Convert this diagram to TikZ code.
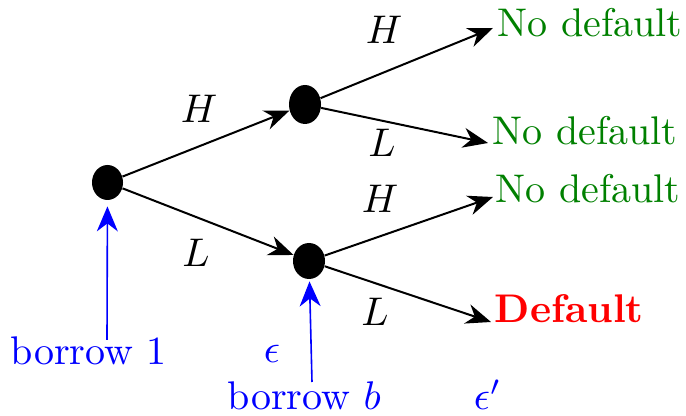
\documentclass[tikz,border=0pt]{standalone}
\usetikzlibrary{arrows.meta,shapes.geometric}
\definecolor{dgreen}{RGB}{0,128,0}
\begin{document}
\begin{tikzpicture}[x=0.5pt,y=-0.5pt,
  big/.style={scale=2,font=\fontsize{10}{12}\selectfont,inner sep=0pt},
  dot/.style={ellipse,fill=black,draw=none,inner sep=0pt},
  br/.style={line width=1pt,-{Stealth[length=12.5pt,width=10pt,inset=4pt]}},
  bl/.style={blue,line width=0.8pt,-{Stealth[length=12.5pt,width=10.5pt,inset=4pt]}},
  lab/.style={big},
  res/.style={big,anchor=base west}]
\useasboundingbox (0,0) rectangle (686,416);
% tree nodes
\node[dot,minimum width=15.5pt,minimum height=17.5pt] (root) at (107.5,182.5) {};
\node[dot,minimum width=16pt,minimum height=19.5pt] (up) at (305,104.5) {};
\node[dot,minimum width=16pt,minimum height=18pt] (lo) at (309,261) {};
% outcomes
\node[res,text=dgreen] (o1) at (497,37) {No default};
\node[res,text=dgreen] (o2) at (492,145) {No default};
\node[res,text=dgreen] (o3) at (495,203) {No default};
\node[res,text=red] (o4) at (494,323) {\bfseries Default};
\coordinate (t1) at (493,28);
\coordinate (t2) at (488,143);
\coordinate (t3) at (493,197);
\coordinate (t4) at (491,322);
% connectors
\draw[br] (root) -- (up);
\draw[br] (root) -- (lo);
\draw[br] (up) -- (t1);
\draw[br] (up) -- (t2);
\draw[br] (lo) -- (t3);
\draw[br] (lo) -- (t4);
% branch labels
\node[lab] (h1) at (199,109) {$H$};
\node[lab] (l1) at (196,253) {$L$};
\node[lab] (h2) at (384,30) {$H$};
\node[lab] (l2) at (382,143) {$L$};
\node[lab] (h3) at (380,199) {$H$};
\node[lab] (l3) at (375,312) {$L$};
% blue annotations
\node[res,text=blue] (b1) at (10,365) {borrow 1};
\node[res,text=blue] (bb) at (227,410) {borrow $b$};
\node[res,text=blue] (e1) at (263,363) {$\epsilon$};
\node[res,text=blue] (e2) at (473,410) {$\epsilon'$};
\coordinate (b1top) at (107,340);
\coordinate (bbtop) at (312,382);
\draw[bl,shorten >=3pt] (b1top) -- (root);
\draw[bl,shorten >=1pt] (bbtop) -- (lo);
\end{tikzpicture}
\end{document}
